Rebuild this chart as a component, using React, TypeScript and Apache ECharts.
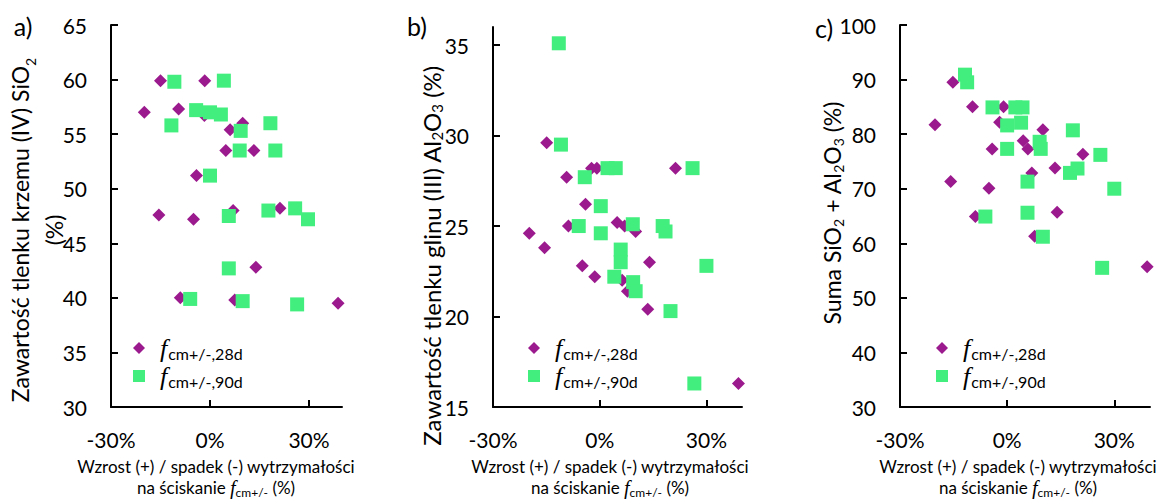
import React, { useEffect, useRef } from "react";
import * as echarts from "echarts";

// Panel a) SiO2 content vs strength change (x in %, y in %)
const siO2_28d: [number, number][] = [
  [-15.0, 59.9], [-1.6, 59.9], [-19.9, 57.0], [-9.5, 57.3], [-1.7, 56.7], [9.9, 56.0],
  [6.1, 55.4], [4.8, 53.5], [13.3, 53.5], [-4.1, 51.2], [-15.5, 47.6], [-5.0, 47.2],
  [7.0, 48.0], [21.2, 48.2], [13.9, 42.8], [-9.0, 40.0], [7.5, 39.8], [38.8, 39.5],
];
const siO2_90d: [number, number][] = [
  [-10.8, 59.8], [4.2, 59.9], [-4.2, 57.2], [0.0, 57.0], [3.3, 56.8], [-11.7, 55.8],
  [18.3, 56.0], [9.3, 55.3], [9.0, 53.5], [19.8, 53.5], [0.0, 51.2], [5.7, 47.5],
  [17.7, 48.0], [25.8, 48.2], [29.7, 47.2], [5.7, 42.7], [-6.0, 39.9], [9.9, 39.7], [26.4, 39.4],
];

// Panel b) Al2O3 content
const al2O3_28d: [number, number][] = [
  [-14.9, 29.6], [-9.3, 27.7], [-2.3, 28.2], [-0.8, 28.2], [21.3, 28.2], [-4.0, 26.2],
  [-19.8, 24.6], [-8.8, 25.0], [4.9, 25.2], [7.0, 25.0], [10.1, 24.7], [-15.5, 23.8],
  [14.0, 23.0], [-4.9, 22.8], [-1.4, 22.2], [6.3, 22.0], [7.8, 21.4], [13.5, 20.4], [39.0, 16.3],
];
const al2O3_90d: [number, number][] = [
  [-11.5, 35.1], [-10.9, 29.5], [2.2, 28.2], [4.5, 28.2], [26.1, 28.2], [-4.2, 27.7],
  [0.3, 26.1], [-5.9, 25.0], [0.3, 24.6], [9.3, 25.1], [17.7, 25.0], [18.5, 24.7],
  [5.9, 23.7], [5.9, 23.0], [4.1, 22.2], [9.4, 21.9], [10.1, 21.4], [30.0, 22.8],
  [19.9, 20.3], [26.6, 16.3],
];

// Panel c) SiO2 + Al2O3 sum
const sum_28d: [number, number][] = [
  [-15.2, 89.5], [-20.2, 81.7], [-9.7, 85.0], [-1.0, 85.0], [-2.1, 82.2], [10.0, 80.8],
  [4.5, 78.8], [5.8, 77.3], [-4.2, 77.3], [21.2, 76.3], [13.4, 73.8], [6.9, 72.9],
  [-15.8, 71.3], [-5.1, 70.1], [14.0, 65.7], [-8.9, 64.9], [7.7, 61.3], [39.2, 55.7],
];
const sum_90d: [number, number][] = [
  [-11.8, 90.9], [-11.2, 89.5], [-4.1, 84.9], [2.3, 84.9], [4.3, 84.9], [0.0, 81.6],
  [3.9, 82.1], [18.4, 80.7], [9.1, 78.6], [9.4, 77.3], [0.0, 77.3], [26.1, 76.2],
  [19.7, 73.7], [17.6, 72.9], [5.7, 71.3], [30.0, 70.0], [-6.1, 64.9], [5.7, 65.6],
  [10.0, 61.2], [26.6, 55.5],
];

const xTicks = [-30, 0, 30];
const yTicksA = [30, 35, 40, 45, 50, 55, 60, 65];
const yTicksB = [15, 20, 25, 30, 35];
const yTicksC = [30, 40, 50, 60, 70, 80, 90, 100];

const seriesNames = ["28d", "90d"];
const PURPLE = "#9B1A8D";
const GREEN = "#42EF7E";
const FONT = "Lato";

export default function App() {
  const ref = useRef<HTMLDivElement>(null);

  useEffect(() => {
    if (!ref.current) return;
    const chart = echarts.init(ref.current, null, { renderer: "svg" });

    const grids = [
      { left: 111, top: 25, width: 231, height: 382 },
      { left: 493, top: 27, width: 249, height: 380 },
      { left: 900, top: 25, width: 250, height: 382 },
    ];
    const yCfg = [
      { min: 30, max: 65, interval: 5, ticks: yTicksA },
      { min: 15, max: 36, interval: 5, ticks: yTicksB },
      { min: 30, max: 100, interval: 10, ticks: yTicksC },
    ];
    const axisLine = { onZero: false, lineStyle: { color: "#000", width: 2 } };
    const tickStyle = { color: "#000", width: 2 };

    const xAxis = [0, 1, 2].map((i) => ({
      type: "value",
      gridIndex: i,
      min: -30,
      max: 40,
      interval: 30,
      axisLine,
      axisTick: { show: true, inside: true, length: 7, lineStyle: tickStyle, customValues: xTicks },
      axisLabel: {
        customValues: xTicks,
        formatter: "{value}%",
        margin: 22,
        color: "#000",
        fontFamily: FONT,
        fontSize: 21,
      },
      splitLine: { show: false },
    }));
    const yAxis = [0, 1, 2].map((i) => ({
      type: "value",
      gridIndex: i,
      min: yCfg[i].min,
      max: yCfg[i].max,
      interval: yCfg[i].interval,
      axisLine,
      axisTick: { show: true, inside: true, length: 7, lineStyle: tickStyle, customValues: yCfg[i].ticks },
      axisLabel: {
        customValues: yCfg[i].ticks,
        margin: 24,
        color: "#000",
        fontFamily: FONT,
        fontSize: 21,
      },
      splitLine: { show: false },
    }));

    const panels = [
      [siO2_28d, siO2_90d],
      [al2O3_28d, al2O3_90d],
      [sum_28d, sum_90d],
    ];
    const series: any[] = [];
    panels.forEach((p, i) => {
      series.push({
        type: "scatter",
        name: seriesNames[0],
        xAxisIndex: i,
        yAxisIndex: i,
        symbol: "diamond",
        symbolSize: 13,
        itemStyle: { color: PURPLE, opacity: 1 },
        data: p[0],
      });
      series.push({
        type: "scatter",
        name: seriesNames[1],
        xAxisIndex: i,
        yAxisIndex: i,
        symbol: "rect",
        symbolSize: 14,
        itemStyle: { color: GREEN, opacity: 1 },
        data: p[1],
      });
    });

    const legendRich = {
      f: {
        fontFamily: "Liberation Serif",
        fontStyle: "italic",
        fontSize: 26,
        lineHeight: 26,
        color: "#000",
        padding: [0, 1, 0, 10],
      },
      s: {
        fontFamily: FONT,
        fontSize: 16,
        lineHeight: 14,
        verticalAlign: "bottom",
        color: "#000",
      },
    };
    const legendLefts = [133, 528, 936];
    const legend = legendLefts.map((l) => ({
      left: l,
      top: 335,
      orient: "vertical",
      padding: 0,
      itemGap: 2,
      itemWidth: 12,
      itemHeight: 12,
      data: [
        { name: seriesNames[0], icon: "diamond" },
        { name: seriesNames[1], icon: "rect" },
      ],
      formatter: (name: string) => `{f|f}{s|cm+/-,${name}}`,
      textStyle: { rich: legendRich },
    }));

    const makeTitleRich = (fs: number, lh: number) => ({
      b: { fontFamily: FONT, fontSize: fs, lineHeight: lh, color: "#000" },
      sub: { fontFamily: FONT, fontSize: Math.round(fs * 0.63), lineHeight: 14, verticalAlign: "bottom", color: "#000" },
    });
    const xTitleRich = {
      b: { fontFamily: FONT, fontSize: 17, lineHeight: 21, color: "#000" },
      fi: { fontFamily: "Liberation Serif", fontStyle: "italic", fontSize: 20, lineHeight: 21, color: "#000" },
      sub: { fontFamily: FONT, fontSize: 12, lineHeight: 12, verticalAlign: "bottom", color: "#000" },
    };
    const xTitleText =
      "{b|Wzrost (+) / spadek (-) wytrzymałości}\n{b|na ściskanie }{fi|f}{sub|cm+/-}{b| (%)}";

    const panelLabel = (text: string, x: number, y: number) => ({
      type: "text",
      x,
      y,
      style: {
        text,
        fontFamily: FONT,
        fontSize: 25,
        fill: "#000",
        align: "center",
        verticalAlign: "middle",
      },
    });
    const yTitle = (text: string, x: number, y: number, fs: number, lh: number) => ({
      type: "text",
      x,
      y,
      rotation: Math.PI / 2,
      style: {
        text,
        rich: makeTitleRich(fs, lh),
        align: "center",
        verticalAlign: "middle",
        fill: "#000",
      },
    });
    const xTitle = (x: number) => ({
      type: "text",
      x,
      y: 477,
      style: {
        text: xTitleText,
        rich: xTitleRich,
        align: "center",
        verticalAlign: "middle",
        fill: "#000",
      },
    });

    const graphic = [
      panelLabel("a)", 23, 26),
      panelLabel("b)", 417, 26),
      panelLabel("c)", 824, 28),
      yTitle("{b|Zawartość tlenku krzemu (IV) SiO}{sub|2}\n{b|(%)}", 37, 230, 23, 34),
      yTitle("{b|Zawartość tlenku glinu (III) Al}{sub|2}{b|O}{sub|3}{b| (%)}", 431, 256, 24, 26),
      yTitle("{b|Suma SiO}{sub|2}{b| + Al}{sub|2}{b|O}{sub|3}{b| (%)}", 832, 213, 23, 26),
      xTitle(216),
      xTitle(610),
      xTitle(1018),
    ];

    chart.setOption({
      animation: false,
      backgroundColor: "#fff",
      textStyle: { fontFamily: FONT },
      grid: grids,
      xAxis,
      yAxis,
      series,
      legend,
      graphic,
    });
    return () => chart.dispose();
  }, []);

  return (
    <div
      ref={ref}
      style={{ position: "absolute", left: 0, top: 0, width: 1160, height: 499 }}
    />
  );
}
